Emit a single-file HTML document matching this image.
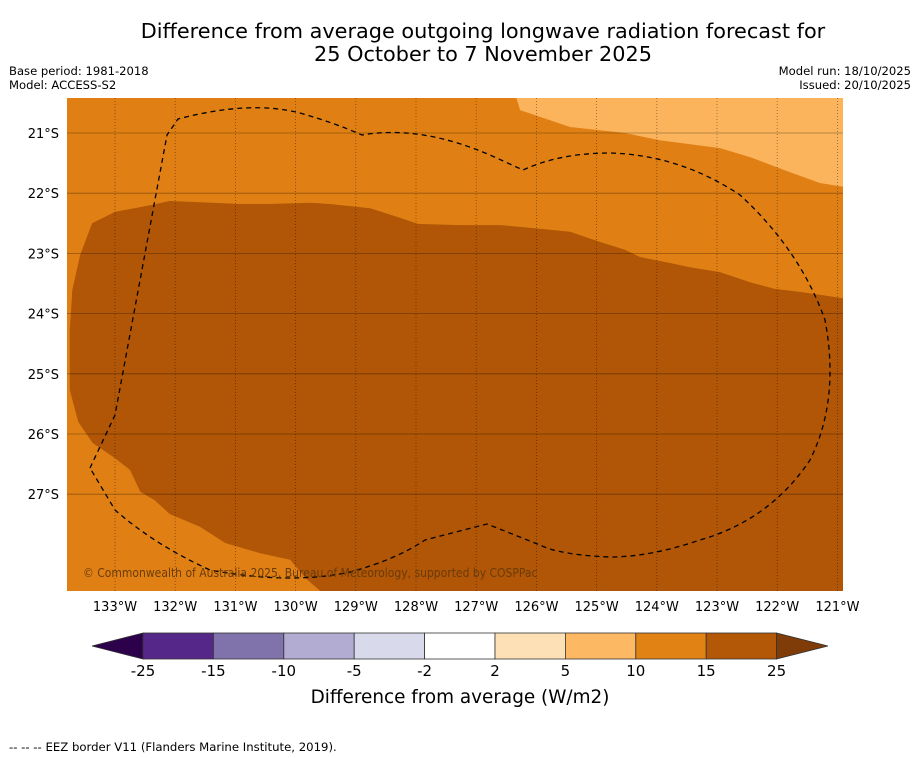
<!DOCTYPE html>
<html><head><meta charset="utf-8"><style>
body{margin:0;background:#fff;}
svg{display:block;font-family:"DejaVu Sans","Liberation Sans",sans-serif;}
</style></head><body>
<svg id="chart" width="919" height="758" viewBox="0 0 919 758">
<text x="483" y="38" font-size="20.8" text-anchor="middle">Difference from average outgoing longwave radiation forecast for</text>
<text x="483" y="61" font-size="20.8" text-anchor="middle">25 October to 7 November 2025</text>
<text x="9" y="75" font-size="11.6">Base period: 1981-2018</text>
<text x="9" y="89" font-size="11.6">Model: ACCESS-S2</text>
<text x="911" y="75" font-size="11.6" text-anchor="end">Model run: 18/10/2025</text>
<text x="911" y="89" font-size="11.6" text-anchor="end">Issued: 20/10/2025</text>
<defs><clipPath id="mapclip"><rect x="67" y="98" width="776" height="493"/></clipPath></defs>
<g id="map" clip-path="url(#mapclip)">
<rect x="67" y="98" width="776" height="493" fill="#e08014"/>
</g>
<g id="xticks"></g>
<g id="yticks"></g>
<g id="cbar"></g>
<text x="460" y="703" font-size="18.4" text-anchor="middle">Difference from average (W/m2)</text>
<text x="9" y="751" font-size="11.7">--  --  -- EEZ border V11 (Flanders Marine Institute, 2019).</text>
</svg>
<script>
const lonTicks=[-133,-132,-131,-130,-129,-128,-127,-126,-125,-124,-123,-122,-121];
const latTicks=[-21,-22,-23,-24,-25,-26,-27];
const cbLevels=[-25,-15,-10,-5,-2,2,5,10,15,25];
const cbColors=["#542788","#8073ac","#b2abd2","#d8daeb","#ffffff","#fee0b6","#fdb863","#e08214","#b35806"];
const lightLon=[-126.27,-125.44,-124.53,-123.95,-122.95,-122.45,-121.79,-121.29,-120.8,-120.8,-126.4];
const lightLat=[-20.62,-20.90,-21.0,-21.12,-21.25,-21.40,-21.65,-21.83,-21.91,-20.2,-20.2];
const darkLon=[-133.75,-133.71,-133.58,-133.38,-133,-132.42,-132.09,-131.59,-130.92,-130.43,-129.76,-129.43,-128.76,-128.35,-127.97,-127.27,-126.60,-125.94,-125.44,-124.94,-124.53,-124.28,-123.78,-123.45,-122.95,-122.45,-122.04,-121.62,-120.8,-120.8,-129.43,-129.59,-129.84,-130.09,-130.59,-131.17,-131.59,-132.09,-132.34,-132.58,-132.75,-133,-133.37,-133.61,-133.75];
const darkLat=[-24.27,-23.61,-23.03,-22.50,-22.31,-22.20,-22.13,-22.15,-22.18,-22.18,-22.16,-22.18,-22.25,-22.38,-22.51,-22.53,-22.53,-22.59,-22.64,-22.81,-22.94,-23.06,-23.16,-23.23,-23.31,-23.48,-23.59,-23.64,-23.76,-28.8,-28.8,-28.61,-28.39,-28.09,-27.98,-27.81,-27.54,-27.33,-27.10,-26.96,-26.60,-26.40,-26.15,-25.80,-25.27];
const NS='http://www.w3.org/2000/svg';
const xs=lon=>115+(lon+133)*60.2;
const ys=lat=>133+(-21-lat)*60.2;
const map=document.getElementById('map');
function mk(tag,at,parent){const e=document.createElementNS(NS,tag);for(const k in at)e.setAttribute(k,at[k]);parent.appendChild(e);return e;}
function poly(lons,lats){return lons.map((l,i)=>xs(l).toFixed(1)+','+ys(lats[i]).toFixed(1)).join(' ');}
const pl=mk('polygon',{points:poly(lightLon,lightLat),fill:'#fbb45c'},map);


const pd=mk('polygon',{points:poly(darkLon,darkLat),fill:'#b05606'},map);


lonTicks.forEach(l=>{const g=mk('line',{x1:xs(l),x2:xs(l),y1:98,y2:591,stroke:'rgba(0,0,0,0.45)','stroke-width':0.8,'stroke-dasharray':'1,2'},map);

});
latTicks.forEach(l=>{const g=mk('line',{x1:67,x2:843,y1:ys(l),y2:ys(l),stroke:'rgba(0,0,0,0.35)','stroke-width':0.8},map);

});
const eez=mk('path',{d:'M90,468 L115,415 L167,135 L178,119 Q250,100 300,113 Q335,123 362,135 Q420,125 490,155 L523,170 Q560,153 610,153 Q680,155 740,195 Q800,250 825,320 Q840,400 810,460 Q770,520 700,540 Q650,557 610,557 Q560,555 540,545 L487,524 L425,540 Q395,560 350,572 Q290,585 210,570 Q155,545 115,510 Z',fill:'none',stroke:'#000','stroke-width':1.3,'stroke-dasharray':'5,4'},map);


const cp=mk('text',{x:83,y:577,'font-size':12,fill:'#6b3b08','font-family':'"DejaVu Sans Condensed","DejaVu Sans",sans-serif','font-stretch':'condensed'},map);
cp.textContent='© Commonwealth of Australia 2025, Bureau of Meteorology, supported by COSPPac';


const xg=document.getElementById('xticks'),yg=document.getElementById('yticks');
lonTicks.forEach(l=>{const t=mk('text',{x:xs(l),y:611,'font-size':13,'text-anchor':'middle'},xg);t.textContent=Math.abs(l)+'°W';

});
latTicks.forEach(l=>{const t=mk('text',{x:59,y:ys(l)+5,'font-size':13,'text-anchor':'end'},yg);t.textContent=Math.abs(l)+'°S';

});
const cb=document.getElementById('cbar');
const cx0=143,cw=70.4,cy=633,ch=26;
const lt=mk('polygon',{points:`${cx0},${cy} ${cx0},${cy+ch} 92,${cy+ch/2}`,fill:'#2d004b',stroke:'#333','stroke-width':0.8},cb);


cbColors.forEach((c,i)=>{const r=mk('rect',{x:cx0+i*cw,y:cy,width:cw,height:ch,fill:c,stroke:'#333','stroke-width':0.8},cb);

});
const rx=cx0+cbColors.length*cw;
const rt=mk('polygon',{points:`${rx},${cy} ${rx},${cy+ch} 828,${cy+ch/2}`,fill:'#7f3b08',stroke:'#333','stroke-width':0.8},cb);


cbLevels.forEach((v,i)=>{const t=mk('text',{x:cx0+i*cw,y:676,'font-size':15,'text-anchor':'middle'},cb);t.textContent=v;

});
</script>
</body></html>
